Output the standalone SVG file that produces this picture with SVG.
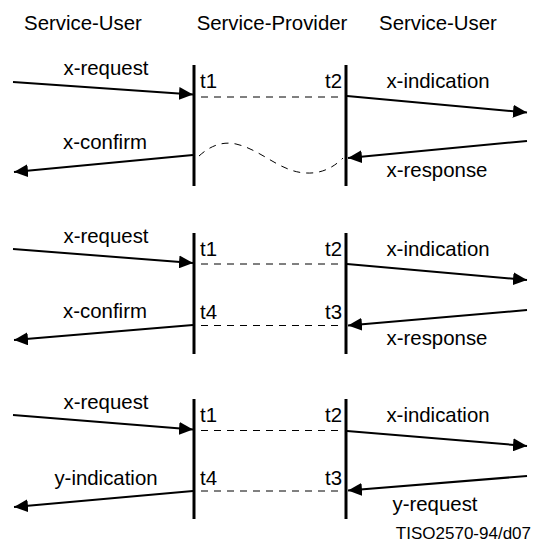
<svg xmlns="http://www.w3.org/2000/svg" width="533" height="542" viewBox="0 0 533 542">
<style>
text{font-family:"Liberation Sans",Arial,sans-serif;font-size:20.4px;fill:#000}
.m{text-anchor:middle}
.e{text-anchor:end}
.life{stroke:#000;stroke-width:3;fill:none}
.arr{stroke:#000;stroke-width:2;fill:none;marker-end:url(#ah)}
.dash{stroke:#000;stroke-width:1;stroke-dasharray:7 6;fill:none}
.small{font-size:17px}
</style>
<defs>
<marker id="ah" viewBox="0 0 14 13" refX="14" refY="6.5" markerWidth="14" markerHeight="13" markerUnits="userSpaceOnUse" orient="auto">
<path d="M0,0 L14,6.5 L0,13 z" fill="#000"/>
</marker>
</defs>
<rect width="533" height="542" fill="#fff"/>
<g id="headers">
<text class="m" x="83" y="30">Service-User</text>
<text class="m" x="272" y="30">Service-Provider</text>
<text class="m" x="438" y="30">Service-User</text>
</g>
<g id="block1">
<line class="life" x1="194" y1="65" x2="194" y2="186"/>
<line class="life" x1="346" y1="65" x2="346" y2="186"/>
<text x="200" y="88">t1</text>
<text class="e" x="342" y="88">t2</text>
<text class="m" x="106" y="75">x-request</text>
<text class="m" x="438" y="88">x-indication</text>
<text class="m" x="105" y="149">x-confirm</text>
<text class="m" x="437" y="177">x-response</text>
</g>
<g id="block2">
<line class="life" x1="194" y1="233" x2="194" y2="354"/>
<line class="life" x1="346" y1="233" x2="346" y2="354"/>
<text x="200" y="256">t1</text>
<text class="e" x="342" y="256">t2</text>
<text x="200" y="319">t4</text>
<text class="e" x="342" y="319">t3</text>
<text class="m" x="106" y="243">x-request</text>
<text class="m" x="438" y="256">x-indication</text>
<text class="m" x="105" y="318">x-confirm</text>
<text class="m" x="437" y="345">x-response</text>
</g>
<g id="block3">
<line class="life" x1="194" y1="399" x2="194" y2="519"/>
<line class="life" x1="346" y1="399" x2="346" y2="519"/>
<text x="200" y="422">t1</text>
<text class="e" x="342" y="422">t2</text>
<text x="200" y="485">t4</text>
<text class="e" x="342" y="485">t3</text>
<text class="m" x="106" y="409">x-request</text>
<text class="m" x="438" y="422">x-indication</text>
<text class="m" x="106" y="485">y-indication</text>
<text class="m" x="435" y="511">y-request</text>
</g>
<g id="connectors">
<path class="arr" d="M13,82 L193,94.5"/>
<path class="dash" d="M201,97 L343,97"/>
<path class="arr" d="M347,96 L527,112.5"/>
<path class="arr" d="M193,155 L14,172"/>
<path class="arr" d="M527,141 L348,158"/>
<path class="dash" d="M199,156 C210,146 222,141 236,144 C262,150 280,172 306,173 C324,174 336,165 343,158"/>
<path class="arr" d="M13,249 L193,263"/>
<path class="dash" d="M201,264 L343,264"/>
<path class="arr" d="M347,264 L527,280"/>
<path class="dash" d="M201,325.5 L343,325.5"/>
<path class="arr" d="M193,325 L14,340"/>
<path class="arr" d="M527,310 L348,325.5"/>
<path class="arr" d="M13,415 L193,429.5"/>
<path class="dash" d="M201,430.5 L343,430.5"/>
<path class="arr" d="M347,431 L527,446"/>
<path class="dash" d="M201,491 L343,491"/>
<path class="arr" d="M193,491 L14,507"/>
<path class="arr" d="M527,476 L348,490.5"/>
</g>
<g id="footer">
<text class="e small" x="531" y="539">TISO2570-94/d07</text>
</g>
</svg>
